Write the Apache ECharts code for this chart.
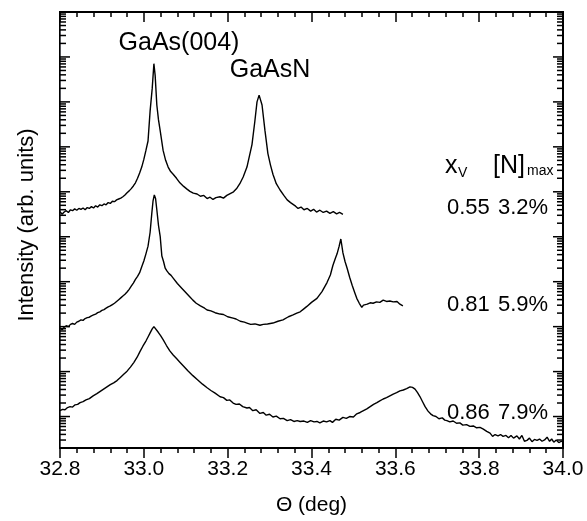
<!DOCTYPE html>
<html>
<head>
<meta charset="utf-8">
<script src="https://cdn.jsdelivr.net/npm/echarts@6/dist/echarts.min.js"></script>
<style>
  html, body { margin: 0; padding: 0; background: #fff; }
  #chart { width: 587px; height: 521px; }
</style>
</head>
<body>
<div id="chart"></div>
<script>
// x range (deg) and y range (log10 decades of intensity, arb. units)
const thetaRange = [32.8, 34.0];
const decadeRange = [0.3, 10];

// rows of the annotation table on the right
const xvValues = ["0.55", "0.81", "0.86"];
const nMaxValues = ["3.2%", "5.9%", "7.9%"];

// [theta, log10 intensity]
const curve055 = [
    [32.800, 5.56], [32.805, 5.50], [32.810, 5.55], [32.815, 5.58], [32.820, 5.54], [32.825, 5.60],
    [32.830, 5.58], [32.835, 5.62], [32.840, 5.59], [32.845, 5.63], [32.850, 5.61], [32.855, 5.64],
    [32.860, 5.60], [32.865, 5.65], [32.870, 5.63], [32.875, 5.67], [32.880, 5.64], [32.885, 5.69],
    [32.890, 5.66], [32.895, 5.71], [32.900, 5.69], [32.905, 5.73], [32.910, 5.71], [32.915, 5.76],
    [32.920, 5.74], [32.925, 5.79], [32.930, 5.78], [32.935, 5.82], [32.940, 5.84], [32.945, 5.86],
    [32.950, 5.89], [32.955, 5.93], [32.960, 5.98], [32.965, 6.02], [32.970, 6.07], [32.975, 6.13],
    [32.980, 6.20], [32.985, 6.30], [32.990, 6.42], [32.995, 6.55], [33.000, 6.72], [33.005, 6.92],
    [33.010, 7.13], [33.015, 7.80], [33.020, 8.30], [33.024, 8.85], [33.027, 8.59], [33.031, 7.93],
    [33.035, 7.60], [33.039, 7.36], [33.046, 6.92], [33.052, 6.70], [33.058, 6.55], [33.064, 6.45],
    [33.070, 6.39], [33.078, 6.30], [33.086, 6.20], [33.095, 6.12], [33.103, 6.06], [33.110, 6.01],
    [33.118, 5.97], [33.127, 5.95], [33.135, 5.90], [33.143, 5.92], [33.151, 5.85], [33.158, 5.88],
    [33.165, 5.83], [33.172, 5.87], [33.182, 5.89], [33.190, 5.86], [33.198, 5.92], [33.206, 5.96],
    [33.214, 6.00], [33.222, 6.08], [33.229, 6.18], [33.237, 6.33], [33.246, 6.55], [33.252, 6.80],
    [33.258, 7.05], [33.265, 7.58], [33.270, 8.00], [33.275, 8.15], [33.282, 7.93], [33.289, 7.36],
    [33.296, 6.85], [33.302, 6.60], [33.308, 6.39], [33.316, 6.18], [33.325, 6.04], [33.334, 5.92],
    [33.342, 5.82], [33.350, 5.76], [33.356, 5.72], [33.362, 5.68], [33.368, 5.63], [33.375, 5.66],
    [33.382, 5.60], [33.390, 5.63], [33.398, 5.57], [33.405, 5.61], [33.412, 5.55], [33.420, 5.59],
    [33.428, 5.54], [33.436, 5.57], [33.444, 5.52], [33.452, 5.56], [33.460, 5.51], [33.467, 5.54],
    [33.475, 5.50]
];

const curve081 = [
    [32.800, 2.97], [32.805, 2.93], [32.810, 2.99], [32.815, 3.02], [32.820, 3.00], [32.825, 3.05],
    [32.830, 3.07], [32.835, 3.05], [32.840, 3.10], [32.845, 3.12], [32.850, 3.15], [32.855, 3.14],
    [32.860, 3.18], [32.865, 3.20], [32.870, 3.21], [32.875, 3.24], [32.880, 3.26], [32.885, 3.28],
    [32.890, 3.31], [32.895, 3.33], [32.900, 3.36], [32.905, 3.38], [32.910, 3.41], [32.915, 3.44],
    [32.920, 3.46], [32.925, 3.49], [32.930, 3.52], [32.935, 3.56], [32.940, 3.60], [32.945, 3.64],
    [32.950, 3.68], [32.955, 3.72], [32.960, 3.77], [32.965, 3.83], [32.970, 3.90], [32.975, 3.97],
    [32.980, 4.05], [32.985, 4.12], [32.990, 4.20], [32.995, 4.33], [33.000, 4.46], [33.005, 4.62],
    [33.010, 4.79], [33.015, 5.10], [33.019, 5.52], [33.022, 5.80], [33.025, 5.93], [33.028, 5.85],
    [33.031, 5.60], [33.035, 5.25], [33.039, 5.01], [33.043, 4.57], [33.047, 4.45], [33.051, 4.30],
    [33.055, 4.24], [33.060, 4.18], [33.065, 4.14], [33.070, 4.08], [33.080, 3.96], [33.091, 3.85],
    [33.100, 3.76], [33.110, 3.66], [33.117, 3.59], [33.125, 3.52], [33.135, 3.46], [33.145, 3.41],
    [33.151, 3.37], [33.160, 3.35], [33.170, 3.31], [33.182, 3.28], [33.190, 3.27], [33.200, 3.22],
    [33.213, 3.19], [33.220, 3.17], [33.230, 3.12], [33.240, 3.10], [33.246, 3.08], [33.255, 3.05],
    [33.265, 3.06], [33.277, 3.03], [33.285, 3.05], [33.295, 3.06], [33.308, 3.08], [33.320, 3.12],
    [33.332, 3.15], [33.345, 3.22], [33.356, 3.26], [33.365, 3.30], [33.373, 3.33], [33.381, 3.39],
    [33.389, 3.45], [33.400, 3.54], [33.413, 3.63], [33.425, 3.78], [33.437, 3.98], [33.445, 4.15],
    [33.451, 4.36], [33.457, 4.52], [33.461, 4.62], [33.466, 4.79], [33.470, 4.95], [33.475, 4.64],
    [33.480, 4.45], [33.485, 4.30], [33.491, 4.10], [33.497, 3.92], [33.503, 3.76], [33.508, 3.63],
    [33.514, 3.52], [33.520, 3.43], [33.524, 3.48], [33.527, 3.52], [33.533, 3.50], [33.540, 3.53],
    [33.547, 3.52], [33.555, 3.55], [33.563, 3.54], [33.571, 3.59], [33.579, 3.56], [33.587, 3.57],
    [33.595, 3.55], [33.604, 3.56], [33.611, 3.50], [33.618, 3.46]
];

const curve086 = [
    [32.800, 1.13], [32.806, 1.16], [32.812, 1.15], [32.818, 1.20], [32.824, 1.22], [32.830, 1.21],
    [32.836, 1.26], [32.842, 1.27], [32.848, 1.31], [32.855, 1.33], [32.862, 1.37], [32.870, 1.40],
    [32.879, 1.46], [32.888, 1.51], [32.896, 1.56], [32.904, 1.61], [32.912, 1.66], [32.920, 1.71],
    [32.928, 1.75], [32.936, 1.80], [32.944, 1.87], [32.952, 1.94], [32.960, 2.01], [32.968, 2.10],
    [32.976, 2.20], [32.984, 2.32], [32.991, 2.45], [32.998, 2.57], [33.005, 2.68], [33.010, 2.77],
    [33.015, 2.86], [33.020, 2.95], [33.024, 3.00], [33.028, 2.96], [33.034, 2.88], [33.040, 2.80],
    [33.046, 2.71], [33.054, 2.58], [33.062, 2.46], [33.070, 2.37], [33.078, 2.29], [33.086, 2.21],
    [33.095, 2.12], [33.105, 2.02], [33.117, 1.91], [33.128, 1.82], [33.140, 1.72], [33.151, 1.64],
    [33.160, 1.58], [33.170, 1.52], [33.182, 1.44], [33.190, 1.42], [33.198, 1.36], [33.205, 1.37],
    [33.213, 1.30], [33.220, 1.27], [33.228, 1.28], [33.236, 1.22], [33.246, 1.19], [33.252, 1.20],
    [33.260, 1.13], [33.268, 1.15], [33.277, 1.07], [33.285, 1.09], [33.292, 1.03], [33.300, 1.05],
    [33.308, 0.99], [33.316, 1.01], [33.325, 0.95], [33.333, 0.96], [33.342, 0.91], [33.350, 0.93],
    [33.358, 0.89], [33.366, 0.91], [33.373, 0.89], [33.382, 0.90], [33.390, 0.87], [33.398, 0.91],
    [33.406, 0.88], [33.413, 0.89], [33.420, 0.86], [33.428, 0.90], [33.436, 0.88], [33.444, 0.91],
    [33.450, 0.87], [33.458, 0.94], [33.466, 0.92], [33.475, 0.98], [33.483, 0.96], [33.491, 1.00],
    [33.500, 0.99], [33.508, 1.06], [33.516, 1.09], [33.524, 1.13], [33.532, 1.17], [33.540, 1.22],
    [33.548, 1.27], [33.556, 1.31], [33.563, 1.35], [33.571, 1.39], [33.579, 1.42], [33.587, 1.46],
    [33.595, 1.50], [33.603, 1.53], [33.611, 1.57], [33.619, 1.59], [33.627, 1.62], [33.635, 1.66],
    [33.641, 1.65], [33.647, 1.61], [33.653, 1.53], [33.659, 1.44], [33.665, 1.33], [33.671, 1.22],
    [33.678, 1.12], [33.684, 1.06], [33.690, 1.02], [33.697, 1.00], [33.704, 0.95], [33.712, 0.97],
    [33.718, 0.92], [33.723, 0.91], [33.730, 0.88], [33.738, 0.90], [33.746, 0.85], [33.754, 0.86],
    [33.761, 0.81], [33.770, 0.82], [33.778, 0.78], [33.786, 0.79], [33.794, 0.75], [33.802, 0.76],
    [33.810, 0.72], [33.818, 0.67], [33.826, 0.63], [33.832, 0.56], [33.838, 0.60], [33.845, 0.57],
    [33.851, 0.60], [33.857, 0.56], [33.864, 0.58], [33.870, 0.53], [33.876, 0.58], [33.882, 0.52],
    [33.890, 0.57], [33.896, 0.50], [33.902, 0.58], [33.908, 0.45], [33.914, 0.47], [33.920, 0.52],
    [33.926, 0.44], [33.932, 0.49], [33.938, 0.47], [33.944, 0.50], [33.950, 0.45], [33.956, 0.48],
    [33.962, 0.54], [33.968, 0.45], [33.973, 0.50], [33.978, 0.43], [33.984, 0.48], [33.990, 0.42],
    [33.996, 0.45], [34.000, 0.43]
];

// log-scale tick positions on both vertical axes: decades and 2..9 minors
const majorTicks = [];
const minorTicks = [];
for (let d = 0; d <= 10; d++) {
    if (d >= decadeRange[0]) majorTicks.push(d);
    for (let k = 2; k <= 9; k++) {
        const v = d + Math.log10(k);
        if (v >= decadeRange[0] && v <= decadeRange[1]) minorTicks.push(v);
    }
}

const FONT = '"Liberation Sans", Arial, Helvetica, sans-serif';
const chart = echarts.init(document.getElementById("chart"));

const lineSeries = (data) => ({
    type: "line",
    data,
    symbol: "none",
    lineStyle: { color: "#000", width: 1.4 },
    animation: false,
});

// tick marks as thin rect symbols sitting on the left / right frame
const tickSeries = (values, side, len) => ({
    type: "scatter",
    data: values.map((v) => [side === "left" ? thetaRange[0] : thetaRange[1], v]),
    symbol: "rect",
    symbolSize: [len, 1.5],
    symbolOffset: [side === "left" ? len / 2 : -len / 2, 0],
    itemStyle: { color: "#000", opacity: 1 },
    clip: false,
    silent: true,
    animation: false,
    z: 20,
});

const text = (str, x, y, size, extra) => ({
    type: "text",
    x, y,
    style: Object.assign({
        text: str,
        font: `${size}px ${FONT}`,
        fill: "#000",
        align: "left",
        textAlign: "left",
        verticalAlign: "middle",
        textVerticalAlign: "middle",
    }, extra || {}),
});

const rowY = [208, 305, 413];
const centered = { align: "center", textAlign: "center" };

chart.setOption({
    animation: false,
    grid: {
        left: 60, right: 24, top: 12, bottom: 66,
        show: true, borderColor: "#000", borderWidth: 2,
    },
    xAxis: [
        {
            type: "value",
            min: thetaRange[0], max: thetaRange[1], interval: 0.2,
            position: "bottom",
            axisLine: { lineStyle: { color: "#000", width: 2 } },
            axisTick: { inside: false, length: 10, lineStyle: { color: "#000", width: 1.5 } },
            minorTick: { show: true, splitNumber: 5, length: 5, lineStyle: { color: "#000", width: 1.5 } },
            axisLabel: {
                color: "#000", fontSize: 21, fontFamily: FONT, margin: 11,
                formatter: (v) => v.toFixed(1),
            },
            splitLine: { show: false },
            name: "\u0398 (deg)",
            nameLocation: "middle",
            nameGap: 47,
            nameTextStyle: { color: "#000", fontSize: 21, fontFamily: FONT },
        },
        {
            type: "value",
            min: thetaRange[0], max: thetaRange[1], interval: 0.2,
            position: "top",
            axisLine: { lineStyle: { color: "#000", width: 2 } },
            axisTick: { inside: true, length: 10, lineStyle: { color: "#000", width: 1.5 } },
            minorTick: { show: true, splitNumber: 5, length: 5, lineStyle: { color: "#000", width: 1.5 } },
            axisLabel: { show: false },
            splitLine: { show: false },
        },
    ],
    yAxis: {
        type: "value",
        min: decadeRange[0], max: decadeRange[1],
        axisLabel: { show: false },
        splitLine: { show: false },
        axisTick: { show: false },
    },
    series: [
        lineSeries(curve055),
        lineSeries(curve081),
        lineSeries(curve086),
        tickSeries(majorTicks, "left", 10),
        tickSeries(majorTicks, "right", 10),
        tickSeries(minorTicks, "left", 6),
        tickSeries(minorTicks, "right", 6),
    ],
    graphic: [
        Object.assign(text("Intensity (arb. units)", 27, 225, 22, centered), { rotation: Math.PI / 2 }),
        text("GaAs(004)", 179, 43, 25, centered),
        text("GaAsN", 270, 70, 25, centered),
        text("x", 445, 166, 25),
        text("V", 458, 173, 14),
        text("[N]", 493, 166, 25),
        text("max", 527, 171, 14),
        ...xvValues.map((v, i) => text(v, 447, rowY[i], 22)),
        ...nMaxValues.map((v, i) => text(v, 498, rowY[i], 22)),
    ],
});
</script>
</body>
</html>
